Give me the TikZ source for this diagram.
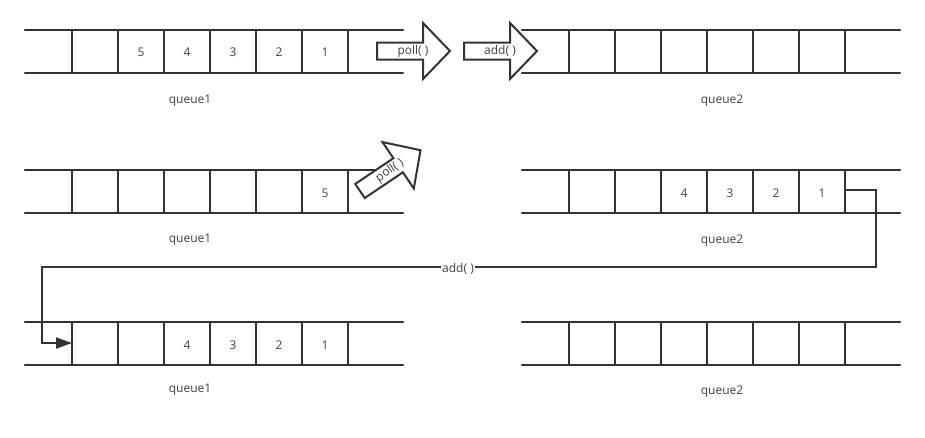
\documentclass[tikz,border=0pt]{standalone}
\usepackage{fontspec}
\setmainfont{Open Sans}
\usetikzlibrary{arrows.meta}
\definecolor{linegray}{rgb}{0.2,0.2,0.2}
\definecolor{textgray}{rgb}{0.25,0.25,0.25}
\tikzset{
    rail/.style={line width=2.2pt,color=linegray},
    num/.style={text=textgray,inner sep=1pt},
    pics/blockarrow/.style={code={
        \draw [line width=2pt,color=linegray,fill=white,line join=miter] (0,-8.5) -- (46,-8.5) -- (46,-28) -- (73,0) -- (46,28) -- (46,8.5) -- (0,8.5) -- cycle;
        \node [num,transform shape] at (36,0) {#1};
    }}
}

\begin{document}
\begin{tikzpicture}[line cap=round,line join=round,x=1pt,y=-1pt,font=\fontsize{12}{14}\selectfont]
    \useasboundingbox (0,0) rectangle (925,437);
    
    % rails and cells
    \foreach \y in {30,170,322} {
        \draw [rail] (25,\y) -- (403,\y);
        \draw [rail] (25,\y+43) -- (403,\y+43);
        \draw [rail] (522,\y) -- (900,\y);
        \draw [rail] (522,\y+43) -- (900,\y+43);
        \foreach \x in {72,118,...,348} \draw [rail] (\x,\y) -- (\x,\y+43);
        \foreach \x in {569,615,...,845} \draw [rail] (\x,\y) -- (\x,\y+43);
    }
    
    % numbers
    \foreach \n/\x in {5/141,4/187,3/233,2/279,1/325} \node [num] (top\n) at (\x,52) {\n};
    \node [num] (mid5) at (325,193) {5};
    \foreach \n/\x in {4/684,3/730,2/776,1/822} \node [num] (right\n) at (\x,193) {\n};
    \foreach \n/\x in {4/187,3/233,2/279,1/325} \node [num] (bot\n) at (\x,345) {\n};
    
    % queue names
    \node [num] (qa) at (190,101) {queue1};
    \node [num] (qb) at (722,101) {queue2};
    \node [num] (qc) at (190,240) {queue1};
    \node [num] (qd) at (722,241) {queue2};
    \node [num] (qe) at (190,390) {queue1};
    \node [num] (qf) at (722,392) {queue2};
    
    % block arrows
    \pic at (377,51) {blockarrow={poll( )}};
    \pic at (464,51) {blockarrow={add( )}};
    \pic [rotate=34] at (360,191) {blockarrow={poll( )}};
    
    % connector
    \coordinate (qout) at (845,190);
    \coordinate (qin) at (72,343);
    \draw [line width=2pt,color=linegray,line cap=butt,line join=miter,-{Triangle[length=16pt,width=11pt]}] (qout) -- (876,190) |- (42,267) |- (qin);
    \node [num,fill=white] (addlabel) at (458,269) {add( )};
\end{tikzpicture}
\end{document}
